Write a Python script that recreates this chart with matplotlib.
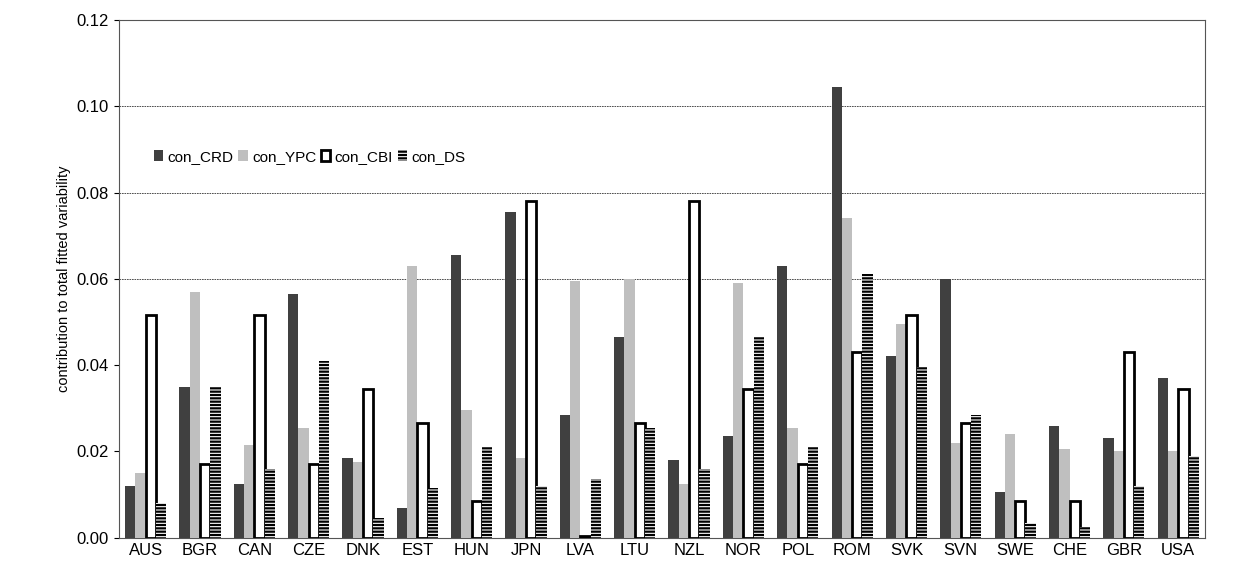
import numpy as np
import matplotlib.pyplot as plt

countries = ['AUS', 'BGR', 'CAN', 'CZE', 'DNK', 'EST', 'HUN', 'JPN', 'LVA', 'LTU',
             'NZL', 'NOR', 'POL', 'ROM', 'SVK', 'SVN', 'SWE', 'CHE', 'GBR', 'USA']
con_crd = [0.012, 0.035, 0.0125, 0.0565, 0.0185, 0.007, 0.0655, 0.0755, 0.0285, 0.0465,
           0.018, 0.0235, 0.063, 0.1045, 0.042, 0.060, 0.0105, 0.026, 0.023, 0.037]
con_ypc = [0.015, 0.057, 0.0215, 0.0255, 0.0175, 0.063, 0.0295, 0.0185, 0.0595, 0.060,
           0.0125, 0.059, 0.0255, 0.074, 0.0495, 0.022, 0.024, 0.0205, 0.020, 0.020]
con_cbi = [0.0515, 0.017, 0.0515, 0.017, 0.0345, 0.0265, 0.0085, 0.078, 0.0005, 0.0265,
           0.078, 0.0345, 0.017, 0.043, 0.0515, 0.0265, 0.0085, 0.0085, 0.043, 0.0345]
con_ds = [0.008, 0.035, 0.016, 0.041, 0.0045, 0.0115, 0.021, 0.012, 0.0135, 0.0255,
          0.016, 0.0465, 0.021, 0.061, 0.0395, 0.0285, 0.0035, 0.0025, 0.012, 0.019]

plt.rcParams['font.family'] = ['Liberation Sans', 'DejaVu Sans']
plt.rcParams['hatch.linewidth'] = 1.6

fig, ax = plt.subplots(figsize=(12.35, 5.69), dpi=100)
fig.subplots_adjust(left=0.096, right=0.976, top=0.965, bottom=0.055)

x = np.arange(len(countries))
w = 0.19
ax.bar(x - 1.5 * w, con_crd, w, color='#404040', label='con_CRD', zorder=3)
ax.bar(x - 0.5 * w, con_ypc, w, color='#bfbfbf', label='con_YPC', zorder=3)
ax.bar(x + 0.5 * w, con_cbi, w, facecolor='white', edgecolor='black', linewidth=2,
       label='con_CBI', zorder=3)
ax.bar(x + 1.5 * w, con_ds, w, facecolor='white', edgecolor='black', linewidth=0,
       hatch='-----', label='con_DS', zorder=3)

for g in [0.06, 0.08, 0.10]:
    ax.axhline(g, color='#333333', linewidth=0.6, linestyle=(0, (2, 1)), zorder=1)

ax.set_xlim(-0.5, len(countries) - 0.5)
ax.set_ylim(0, 0.12)
ax.set_yticks(np.arange(0, 0.121, 0.02))
ax.set_yticklabels([f'{v:.2f}' for v in np.arange(0, 0.121, 0.02)], fontsize=12)
ax.set_xticks(x)
ax.set_xticklabels(countries, fontsize=12)
ax.tick_params(axis='x', length=0)
ax.set_ylabel('contribution to total fitted variability', fontsize=10.5)
for s in ax.spines.values():
    s.set_color('#555555')

ax.legend(loc='upper left', bbox_to_anchor=(0.02, 0.775), ncol=4, frameon=False,
          fontsize=11, handlelength=0.6, handletextpad=0.3, columnspacing=0.3)

plt.savefig('out.png', dpi=100)
